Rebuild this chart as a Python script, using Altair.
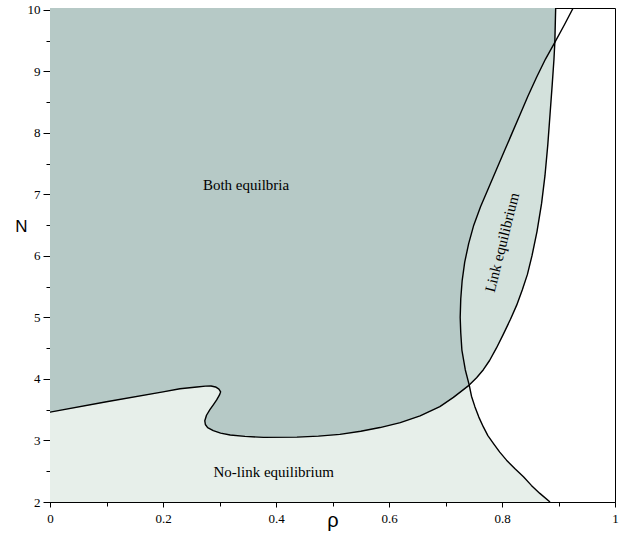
import altair as alt
import pandas as pd

# Curve A: lower boundary of "Both equilibria" (rho, N)
A_rho = [0.0, 0.10, 0.20, 0.23, 0.26, 0.275, 0.285, 0.293, 0.299, 0.302, 0.300, 0.295,
         0.289, 0.283, 0.277, 0.274, 0.275, 0.279, 0.289, 0.302, 0.319, 0.345, 0.378,
         0.437, 0.475, 0.513, 0.55, 0.584, 0.62, 0.655, 0.690, 0.714, 0.742,
         0.755, 0.767, 0.778, 0.790, 0.802, 0.815, 0.826, 0.836, 0.845, 0.853, 0.862,
         0.870, 0.876, 0.881, 0.885, 0.889, 0.892, 0.8935, 0.895]
A_N = [3.46, 3.63, 3.79, 3.84, 3.87, 3.883, 3.885, 3.87, 3.835, 3.79, 3.74, 3.66,
       3.58, 3.50, 3.41, 3.32, 3.26, 3.21, 3.16, 3.12, 3.09, 3.066, 3.05,
       3.055, 3.07, 3.10, 3.15, 3.21, 3.29, 3.40, 3.55, 3.70, 3.90,
       4.02, 4.15, 4.30, 4.50, 4.72, 4.97, 5.20, 5.45, 5.70, 6.0, 6.4,
       6.85, 7.3, 7.8, 8.3, 8.8, 9.2, 9.47, 10.03]

# Curve B: from the bottom edge up to the top edge (rho, N)
B_rho = [0.885, 0.867, 0.852, 0.838, 0.823, 0.808, 0.796, 0.785, 0.775, 0.767, 0.759, 0.752,
         0.746, 0.742, 0.735, 0.729, 0.727, 0.726, 0.727, 0.7295, 0.734, 0.741, 0.750,
         0.762, 0.776, 0.790, 0.804, 0.818, 0.832, 0.846, 0.861, 0.877, 0.8935, 0.91, 0.926]
B_N = [2.0, 2.14, 2.27, 2.41, 2.54, 2.68, 2.81, 2.95, 3.08, 3.22, 3.38, 3.55,
       3.72, 3.90, 4.15, 4.47, 4.75, 5.0, 5.3, 5.6, 5.9, 6.2, 6.5,
       6.8, 7.1, 7.4, 7.7, 8.0, 8.3, 8.6, 8.9, 9.2, 9.47, 9.75, 10.03]

# crossing points of the two curves
CROSS_LOW = (0.742, 3.90)
CROSS_HIGH = (0.8935, 9.47)

N_MIN, N_MAX = 2.0, 10.03

labels_text = ["Both equilbria", "No-link equilibrium", "Link equilibrium"]
labels_rho = [0.347, 0.396, 0.800]
labels_N = [7.155, 2.49, 6.22]
labels_angle = [0, 0, 284]

x_ticks = [0, 0.1, 0.2, 0.3, 0.4, 0.5, 0.6, 0.7, 0.8, 0.9, 1]
y_ticks = [2, 2.5, 3, 3.5, 4, 4.5, 5, 5.5, 6, 6.5, 7, 7.5, 8, 8.5, 9, 9.5, 10]

colors = {"nolink": "#e7efea", "both": "#b6c9c6", "link": "#d3e1dc"}

A = list(zip(A_rho, A_N))
B = list(zip(B_rho, B_N))
iA1, iA2 = A.index(CROSS_LOW), A.index(CROSS_HIGH)
iB1, iB2 = B.index(CROSS_LOW), B.index(CROSS_HIGH)

polys = {
    "both": [(0.0, N_MAX)] + A[:iA1 + 1] + B[iB1 + 1:iB2 + 1] + A[iA2 + 1:],
    "link": A[iA1:iA2 + 1] + B[iB1:iB2 + 1][::-1],
    "nolink": [(0.0, N_MIN)] + A[:iA1 + 1] + B[:iB1][::-1],
}


def frame(pts):
    return pd.DataFrame({"i": range(len(pts)), "rho": [p[0] for p in pts], "N": [p[1] for p in pts]})


xs = alt.Scale(domain=[0, 1], nice=False, zero=False)
ys = alt.Scale(domain=[N_MIN, N_MAX], nice=False, zero=False)

x_axis = alt.Axis(
    values=x_ticks,
    labelExpr="round(datum.value*10) % 2 == 1 ? '' : format(datum.value, '.1~f')",
    tickSize={"condition": {"test": "round(datum.value*10) % 2 == 1", "value": 4}, "value": 5},
    grid=False, labelFont="Liberation Serif", labelFontSize=13, labelColor="black",
    labelPadding=5, tickColor="black", domainColor="black", labelFlush=False,
    title="ρ", titleFont="Liberation Sans", titleFontSize=20,
    titleFontWeight="normal", titleColor="black", titleY=24, titleBaseline="alphabetic")
y_axis = alt.Axis(
    values=y_ticks,
    labelExpr="datum.value % 1 != 0 ? '' : format(datum.value, 'd')",
    tickSize={"condition": {"test": "datum.value % 1 != 0", "value": 4}, "value": 7},
    grid=False, labelFont="Liberation Serif", labelFontSize=13, labelColor="black",
    labelPadding=3, tickColor="black", domainColor="black", labelFlush=False,
    title="N", titleFont="Liberation Sans", titleFontSize=17,
    titleFontWeight="normal", titleColor="black", titleAngle=0,
    titleX=-29, titleY=218, titleAlign="center", titleBaseline="middle")

X = alt.X("rho:Q", scale=xs, axis=x_axis)
Y = alt.Y("N:Q", scale=ys, axis=y_axis)

layers = []
for name in ["nolink", "both", "link"]:
    layers.append(
        alt.Chart(frame(polys[name])).mark_line(
            fill=colors[name], stroke=colors[name], strokeWidth=0.5, clip=True
        ).encode(x=X, y=Y, order="i:Q")
    )

for pts in (A, B):
    layers.append(
        alt.Chart(frame(pts)).mark_line(color="black", strokeWidth=1.4, clip=True,
                                        strokeJoin="round").encode(
            x=X, y=Y, order="i:Q"
        )
    )

lab = pd.DataFrame({"t": labels_text, "rho": labels_rho, "N": labels_N})
for k in range(len(labels_text)):
    layers.append(
        alt.Chart(lab.iloc[[k]]).mark_text(
            font="Liberation Serif", fontSize=15, color="black", align="center",
            baseline="middle", angle=int(labels_angle[k])
        ).encode(x=X, y=Y, text="t:N")
    )

chart = alt.layer(*layers).properties(
    width=565, height=494,
    autosize=alt.AutoSizeParams(type="none"),
    padding={"left": 50, "top": 8, "right": 6, "bottom": 38},
    background="white",
).configure_view(stroke="black", strokeWidth=1).configure_axis(
    labelFont="Liberation Serif", labelFontSize=13, labelColor="black"
)

chart.save("out.html", embed_options={"renderer": "svg", "actions": False})
